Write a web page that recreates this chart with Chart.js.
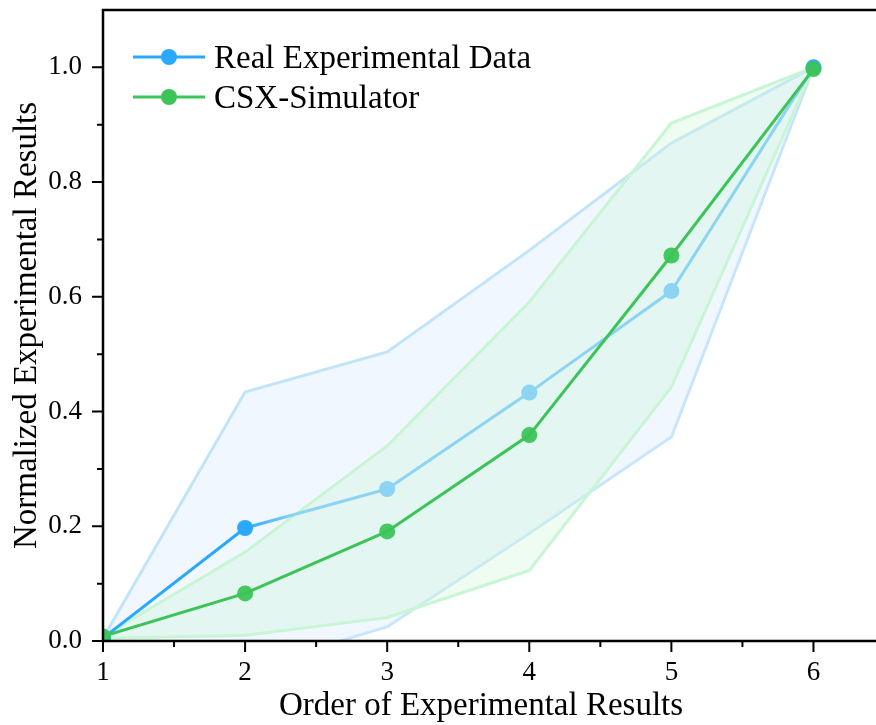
<!DOCTYPE html>
<html>
<head>
<meta charset="utf-8">
<script src="https://cdn.jsdelivr.net/npm/chart.js@4.4.1/dist/chart.umd.min.js"></script>
<style>
  html, body { margin: 0; padding: 0; background: #fff; }
  #wrap { width: 876px; height: 725px; }
</style>
</head>
<body>
<div id="wrap"><canvas id="myChart" width="876" height="725"></canvas></div>
<script>
// data
const xValues = [1, 2, 3, 4, 5, 6];
const realData = [0.005, 0.197, 0.265, 0.433, 0.610, 1.0];
const realUpper = [0.005, 0.434, 0.504, 0.681, 0.868, 1.0];
const realLower = [0.005, -0.05, 0.025, 0.188, 0.356, 1.0];
const simData = [0.008, 0.083, 0.191, 0.359, 0.672, 0.997];
const simUpper = [0.008, 0.155, 0.340, 0.591, 0.903, 1.0];
const simLower = [0.005, 0.010, 0.041, 0.123, 0.443, 1.0];
const xTicks = [1, 2, 3, 4, 5, 6];
const yTicks = [0, 0.2, 0.4, 0.6, 0.8, 1.0];
const seriesNames = ['Real Experimental Data', 'CSX-Simulator'];

//colours
const blueDark = '#2aa8fb';
const blueLight = '#8dd4f3';
const green = '#3cc459';
const realPointColors = [blueDark, blueDark, blueLight, blueLight, blueLight, blueDark];
const FONT = "'Liberation Serif', 'Times New Roman', serif";

const canvas = document.getElementById('myChart');
const gctx = canvas.getContext('2d');

function pts(ys) {
    return xValues.map((x, i) => ({ x: x, y: ys[i] }));
}

//blue line fades from dark to light, stays light going back up
function realSegColor(c) {
    const a = realPointColors[c.p0DataIndex];
    const b = realPointColors[c.p1DataIndex];
    if (a === b || a === blueLight) return a;
    const g = gctx.createLinearGradient(c.p0.x, c.p0.y, c.p1.x, c.p1.y);
    g.addColorStop(0.0, a);
    g.addColorStop(0.35, b);
    g.addColorStop(1, b);
    return g;
}

function minorOf(ticks) {
    const out = [];
    for (let i = 0; i < ticks.length - 1; i++) out.push((ticks[i] + ticks[i + 1]) / 2);
    return out;
}

function noPad(s) {
    s.paddingTop = 0;
    s.paddingBottom = 0;
    s.paddingLeft = 0;
    s.paddingRight = 0;
}

// axes, frame, titles and legend
const decor = {
    id: 'decor',
    afterDatasetsDraw(chart) {
        const { ctx, chartArea: a, scales: { x, y } } = chart;
        ctx.save();
        ctx.strokeStyle = '#000';
        ctx.lineWidth = 2.5;
        ctx.beginPath();
        ctx.moveTo(a.right, a.top);
        ctx.lineTo(a.left, a.top);
        ctx.lineTo(a.left, a.bottom);
        ctx.lineTo(a.right, a.bottom);
        ctx.stroke();

        ctx.lineWidth = 2;
        ctx.beginPath();
        xTicks.forEach(v => { const p = x.getPixelForValue(v); ctx.moveTo(p, a.bottom); ctx.lineTo(p, a.bottom + 11); });
        minorOf(xTicks).forEach(v => { const p = x.getPixelForValue(v); ctx.moveTo(p, a.bottom); ctx.lineTo(p, a.bottom + 6); });
        yTicks.forEach(v => { const p = y.getPixelForValue(v); ctx.moveTo(a.left, p); ctx.lineTo(a.left - 11, p); });
        minorOf(yTicks).forEach(v => { const p = y.getPixelForValue(v); ctx.moveTo(a.left, p); ctx.lineTo(a.left - 6, p); });
        ctx.stroke();

        // axis titles
        ctx.fillStyle = '#000';
        ctx.font = '33px ' + FONT;
        ctx.textAlign = 'center';
        ctx.textBaseline = 'alphabetic';
        ctx.fillText('Order of Experimental Results', 481, 715);
        ctx.save();
        ctx.translate(36, (a.top + a.bottom) / 2);
        ctx.rotate(-Math.PI / 2);
        ctx.fillText('Normalized Experimental Results', 0, 0);
        ctx.restore();

        // legend
        const legendColors = [blueDark, green];
        seriesNames.forEach((name, i) => {
            const ly = 57 + i * 40;
            ctx.strokeStyle = legendColors[i];
            ctx.lineWidth = 3;
            ctx.beginPath();
            ctx.moveTo(133, ly);
            ctx.lineTo(205, ly);
            ctx.stroke();
            ctx.fillStyle = legendColors[i];
            ctx.beginPath();
            ctx.arc(169, ly, 8, 0, Math.PI * 2);
            ctx.fill();
            ctx.fillStyle = '#000';
            ctx.textAlign = 'left';
            ctx.textBaseline = 'alphabetic';
            ctx.font = '33px ' + FONT;
            ctx.fillText(name, 214, ly + 10.5);
        });
        ctx.restore();
    }
};

const bandLine = (color, fillColor, data, order) => ({
    data: pts(data),
    borderColor: color,
    borderWidth: 3,
    pointRadius: 0,
    fill: fillColor ? '-1' : false,
    backgroundColor: fillColor || 'transparent',
    order: order
});

new Chart(canvas, {
    type: 'line',
    data: {
        datasets: [
            bandLine('#c2e4fb', null, realLower, 10),
            bandLine('#c2e4fb', 'rgba(222,238,252,0.45)', realUpper, 9),
            bandLine('#c8f6d4', null, simLower, 8),
            bandLine('#c8f6d4', 'rgba(205,245,218,0.35)', simUpper, 7),
            {
                label: seriesNames[0],
                data: pts(realData),
                borderColor: blueLight,
                borderWidth: 3,
                pointRadius: 8,
                pointHoverRadius: 8,
                pointBorderWidth: 0,
                pointBackgroundColor: realPointColors,
                segment: { borderColor: realSegColor },
                fill: false,
                order: 2
            },
            {
                label: seriesNames[1],
                data: pts(simData),
                borderColor: green,
                borderWidth: 3,
                pointRadius: 8,
                pointHoverRadius: 8,
                pointBorderWidth: 0,
                pointBackgroundColor: 'rgba(60,196,89,0.95)',
                fill: false,
                order: 1
            }
        ]
    },
    options: {
        responsive: false,
        animation: false,
        layout: { autoPadding: false, padding: { top: 10, right: 0, left: 0, bottom: 0 } },
        plugins: { legend: { display: false }, tooltip: { enabled: false } },
        scales: {
            x: {
                type: 'linear',
                min: 1,
                max: 6.44,
                grid: { display: false, drawTicks: false },
                border: { display: false },
                afterBuildTicks: s => { s.ticks = xTicks.map(v => ({ value: v })); },
                afterFit: s => { s.height = 84; noPad(s); },
                ticks: {
                    padding: 16,
                    color: '#000',
                    font: { family: FONT, size: 27 },
                    callback: v => String(v)
                }
            },
            y: {
                min: 0,
                max: 1.1,
                grid: { display: false, drawTicks: false },
                border: { display: false },
                afterBuildTicks: s => { s.ticks = yTicks.map(v => ({ value: v })); },
                afterFit: s => { s.width = 103; noPad(s); },
                ticks: {
                    padding: 21,
                    color: '#000',
                    font: { family: FONT, size: 27 },
                    callback: v => v.toFixed(1)
                }
            }
        }
    },
    plugins: [decor]
});
</script>
</body>
</html>
